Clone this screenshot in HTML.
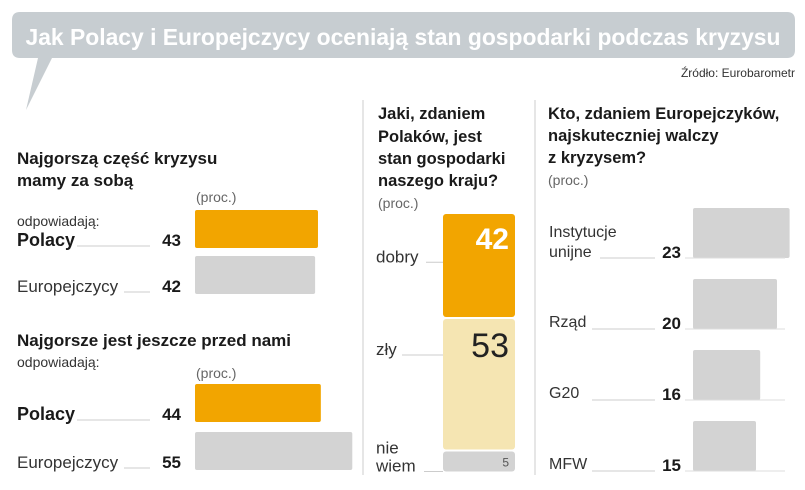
<!DOCTYPE html>
<html><head><meta charset="utf-8"><style>
body{margin:0;background:#fff;}
svg{display:block;font-family:"Liberation Sans",sans-serif;}
.h{font-weight:bold;font-size:16.5px;fill:#1a1a1a;}
.l{font-size:16px;fill:#333;}
.p{font-size:14px;fill:#666;}
.v{font-weight:bold;font-size:17px;fill:#1a1a1a;}
</style></head><body>
<svg id="c" width="805" height="490" viewBox="0 0 805 490">
<path d="M20 12 H787 Q795 12 795 20 V50 Q795 58 787 58 H52 L26 110 L38 58 H20 Q12 58 12 50 V20 Q12 12 20 12Z" fill="#c7cdd1"/>
<text x="403" y="45" text-anchor="middle" font-weight="bold" font-size="23" fill="#fff" textLength="755" lengthAdjust="spacingAndGlyphs">Jak Polacy i Europejczycy oceniają stan gospodarki podczas kryzysu</text>
<text x="795" y="77" text-anchor="end" font-size="12" fill="#333">Źródło: Eurobarometr</text>
<line x1="363" y1="100" x2="363" y2="475" stroke="#ccc"/>
<line x1="535" y1="100" x2="535" y2="475" stroke="#ccc"/>
<text class="h" x="17" y="164" style="font-size:17px">Najgorszą część kryzysu</text>
<text class="h" x="17" y="186" style="font-size:17px">mamy za sobą</text>
<text class="p" x="196" y="202">(proc.)</text>
<text class="l" x="17" y="226" style="font-size:14px">odpowiadają:</text>
<text class="h" x="17" y="346" style="font-size:17px">Najgorsze jest jeszcze przed nami</text>
<text class="l" x="17" y="367" style="font-size:14px">odpowiadają:</text>
<text class="p" x="196" y="378">(proc.)</text>
<text class="h" x="378" y="119">Jaki, zdaniem</text>
<text class="h" x="378" y="142">Polaków, jest</text>
<text class="h" x="378" y="164">stan gospodarki</text>
<text class="h" x="378" y="186">naszego kraju?</text>
<text class="p" x="378" y="208">(proc.)</text>
<text class="h" x="548" y="119">Kto, zdaniem Europejczyków,</text>
<text class="h" x="548" y="141">najskuteczniej walczy</text>
<text class="h" x="548" y="163">z kryzysem?</text>
<text class="p" x="548" y="185">(proc.)</text>
<g id="g"></g>
</svg>
<script>
const s1Labels=["Polacy","Europejczycy"];
const s1Values=[43,42];
const s2Labels=["Polacy","Europejczycy"];
const s2Values=[44,55];
const midLabels=["dobry","zły","nie wiem"];
const midValues=[42,53,5];
const rightLabels=["Instytucje unijne","Rząd","G20","MFW"];
const rightValues=[23,20,16,15];
const NS="http://www.w3.org/2000/svg",G=document.getElementById('g');
function mk(t,a,txt){const e=document.createElementNS(NS,t);for(const k in a)e.setAttribute(k,a[k]);if(txt!=null)e.textContent=txt;G.appendChild(e);return e;}
const xL=v=>v*2.86;
function section(labels,values,tops){
 labels.forEach((lb,i)=>{
  const y=tops[i],base=y+36,col=i==0?"#f2a500":"#d3d3d3";
  const r=mk('rect',{x:195,y:y,width:xL(values[i]),height:38,rx:2,fill:col});
  
  
  const t=mk('text',{x:17,y:base,class:i==0?'h':'l',style:i==0?'font-size:18px':'font-size:17px'},lb);
  
  
  const ln=mk('line',{x1:i==0?77:124,y1:base,x2:150,y2:base,stroke:'#ccc'});
  
  
  const v=mk('text',{x:181,y:base,class:'v','text-anchor':'end'},values[i]);
  
  
 });
}
section(s1Labels,s1Values,[210,256]);
section(s2Labels,s2Values,[384,432]);
// middle stacked
const yM=v=>v*2.5;let cy=214;
const mcols=["#f2a500","#f5e5b2","#d3d3d3"];
midValues.forEach((v,i)=>{
 const h=Math.max(yM(v),22);
 const r=mk('rect',{x:443,y:cy,width:72,height:h-2,rx:3,fill:mcols[i]});
 
 
 const fs=i==0?30:(i==1?34:12);
 const t=mk('text',{x:509,y:i==2?cy+h-7:cy+(i==0?35:38),'text-anchor':'end','font-size':fs,'font-weight':i==0?'bold':'normal',fill:i==0?'#fff':(i==1?'#222':'#555')},v);
 
 
 const ly=i==2?cy+h-2:(i==0?cy+h*0.46:cy+36);
 if(i==2){const a=mk('text',{x:376,y:ly-18,class:'l',style:'font-size:17px'},'nie');
  const b=mk('text',{x:376,y:ly,class:'l',style:'font-size:17px'},'wiem');}
 else{const a=mk('text',{x:376,y:ly,class:'l',style:'font-size:17px'},midLabels[i]);}
 const ln=mk('line',{x1:i==0?426:(i==1?402:424),y1:ly,x2:443,y2:ly,stroke:'#ccc'});
 
 
 cy+=h;
});
// right bars
const xR=v=>v*4.2;
rightLabels.forEach((lb,i)=>{
 const y=208+i*71,base=y+50;
 const r=mk('rect',{x:693,y:y,width:xR(rightValues[i]),height:50,rx:2,fill:'#d3d3d3'});
 
 
 if(i==0){const a=mk('text',{x:549,y:base-21,class:'l'},'Instytucje');
  const b=mk('text',{x:549,y:base-1,class:'l'},'unijne');}
 else{const a=mk('text',{x:549,y:base-2,class:'l'},lb);}
 const ln=mk('line',{x1:i==0?600:592,y1:base,x2:655,y2:base,stroke:'#ccc'});
 
 
 const ln2=mk('line',{x1:685,y1:base,x2:785,y2:base,stroke:'#ddd'});
 
 
 const v=mk('text',{x:681,y:base,class:'v','text-anchor':'end'},rightValues[i]);
 
 
});
</script>
</body></html>
